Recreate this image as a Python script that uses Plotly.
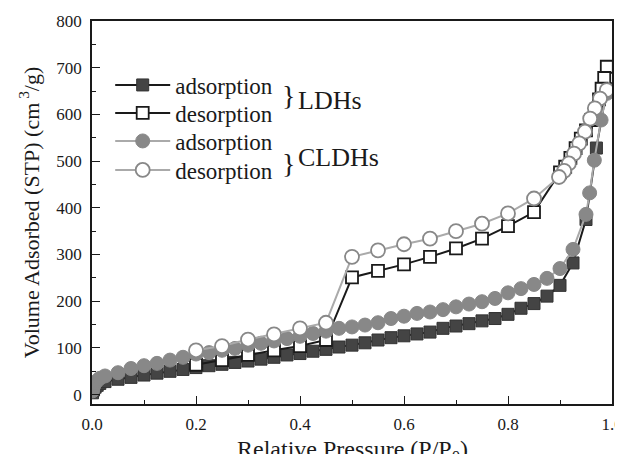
import plotly.graph_objects as go

# LDHs adsorption
ldh_ads_x = [0.001, 0.003, 0.006, 0.01, 0.015, 0.025, 0.05, 0.075, 0.1, 0.125, 0.15, 0.175, 0.2, 0.225,
             0.25, 0.275, 0.3, 0.325, 0.35, 0.375, 0.4, 0.425, 0.45, 0.475, 0.5, 0.525, 0.55, 0.575, 0.6,
             0.625, 0.65, 0.675, 0.7, 0.725, 0.75, 0.775, 0.8, 0.825, 0.85, 0.875, 0.9, 0.925, 0.95, 0.97, 0.99]
ldh_ads_y = [4, 10, 16, 20, 24, 28, 33, 37, 42, 46, 50, 54, 58, 62,
             65, 69, 72, 76, 80, 85, 88, 93, 97, 102, 106, 111, 117, 122, 126,
             130, 134, 142, 147, 152, 158, 163, 172, 185, 195, 211, 234, 282, 375, 528, 655]

# LDHs desorption
ldh_des_x = [0.99, 0.985, 0.98, 0.975, 0.97, 0.96, 0.95, 0.94, 0.93, 0.92, 0.91, 0.9, 0.85, 0.8, 0.75,
             0.7, 0.65, 0.6, 0.55, 0.5, 0.45, 0.4, 0.35, 0.3, 0.25, 0.2]
ldh_des_y = [702, 678, 655, 632, 610, 588, 566, 548, 528, 507, 488, 476, 391, 361, 334,
             313, 295, 279, 265, 251, 117, 104, 95, 85, 74, 64]

# CLDHs adsorption
cldh_ads_x = [0.001, 0.003, 0.006, 0.01, 0.015, 0.025, 0.05, 0.075, 0.1, 0.125, 0.15, 0.175, 0.2, 0.225,
              0.25, 0.275, 0.3, 0.325, 0.35, 0.375, 0.4, 0.425, 0.45, 0.475, 0.5, 0.525, 0.55, 0.575, 0.6,
              0.625, 0.65, 0.675, 0.7, 0.725, 0.75, 0.775, 0.8, 0.825, 0.85, 0.875, 0.9, 0.925, 0.95,
              0.957, 0.966, 0.979, 0.99]
cldh_ads_y = [8, 18, 25, 30, 35, 40, 47, 56, 62, 67, 74, 80, 87, 90,
              95, 99, 106, 110, 115, 120, 125, 131, 136, 142, 145, 149, 154, 163, 168,
              174, 177, 182, 188, 194, 199, 206, 218, 227, 236, 249, 270, 311, 386,
              432, 502, 588, 645]

# CLDHs desorption
cldh_des_x = [0.99, 0.977, 0.967, 0.958, 0.948, 0.937, 0.927, 0.917, 0.908, 0.898, 0.85, 0.8, 0.75,
              0.7, 0.65, 0.6, 0.55, 0.5, 0.45, 0.4, 0.35, 0.3, 0.25, 0.2]
cldh_des_y = [652, 634, 613, 591, 563, 538, 516, 495, 479, 466, 420, 388, 366,
              350, 334, 322, 309, 295, 154, 142, 129, 118, 104, 95]

x_ticks = [0.0, 0.2, 0.4, 0.6, 0.8, 1.0]
x_tick_labels = ["0.0", "0.2", "0.4", "0.6", "0.8", "1.0"]
y_ticks = [0, 100, 200, 300, 400, 500, 600, 700, 800]

FONT = "Liberation Serif"
INK = "#1a1a1a"

fig = go.Figure()
fig.add_trace(go.Scatter(x=ldh_ads_x, y=ldh_ads_y, mode="lines+markers", name="adsorption",
                         legend="legend",
                         line=dict(color=INK, width=2),
                         marker=dict(symbol="square", size=12, color="#444444",
                                     line=dict(color="#333333", width=1))))
fig.add_trace(go.Scatter(x=ldh_des_x, y=ldh_des_y, mode="lines+markers", name="desorption",
                         legend="legend2",
                         line=dict(color=INK, width=2),
                         marker=dict(symbol="square", size=12, color="white",
                                     line=dict(color=INK, width=1.8))))
fig.add_trace(go.Scatter(x=cldh_ads_x, y=cldh_ads_y, mode="lines+markers", name="adsorption",
                         legend="legend3",
                         line=dict(color="#aaaaaa", width=2),
                         marker=dict(symbol="circle", size=14, color="#888888",
                                     line=dict(color="#888888", width=1))))
fig.add_trace(go.Scatter(x=cldh_des_x, y=cldh_des_y, mode="lines+markers", name="desorption",
                         legend="legend4",
                         line=dict(color="#aaaaaa", width=2),
                         marker=dict(symbol="circle", size=14, color="white",
                                     line=dict(color="#888888", width=1.8))))

# page pixel -> paper coordinate (plot area spans x 92..612, y 21..404 in the page)
def px_x(p):
    return (p - 92) / (612 - 92)

def px_y(p):
    return (404 - p) / (404 - 21)

ann = [
    dict(text="}", x=px_x(288), y=px_y(96), font=dict(size=28), xanchor="center"),
    dict(text="LDHs", x=px_x(296), y=px_y(100), font=dict(size=26), xanchor="left"),
    dict(text="}", x=px_x(288), y=px_y(163), font=dict(size=28), xanchor="center"),
    dict(text="CLDHs", x=px_x(296), y=px_y(157), font=dict(size=26), xanchor="left"),
    dict(text="Relative Pressure (P/P<sub>0</sub>)", x=px_x(352), y=px_y(451), font=dict(size=24),
         xanchor="center"),
]
for a in ann:
    a.update(xref="paper", yref="paper", showarrow=False, yanchor="middle")
    a["font"].update(family=FONT, color=INK)

def leg(row_px):
    return dict(x=0.035, y=px_y(row_px), xanchor="left", yanchor="middle",
                font=dict(size=23, family=FONT, color=INK),
                bgcolor="rgba(0,0,0,0)", itemwidth=55)

# the page body has an 8 px margin, so the figure is a bit smaller than the window
fig.update_layout(
    width=615, height=446,
    margin=dict(l=84, r=11, t=13, b=50),
    paper_bgcolor="white", plot_bgcolor="white",
    font=dict(family=FONT, color=INK),
    showlegend=True,
    legend=leg(85), legend2=leg(113), legend3=leg(141), legend4=leg(170),
    annotations=ann,
    xaxis=dict(range=[0, 1.0], tickvals=x_ticks, ticktext=x_tick_labels, ticks="inside", ticklen=8,
               tickwidth=1.3, tickcolor=INK, showline=True, linecolor=INK, linewidth=1.5,
               mirror=True, showgrid=False, zeroline=False, tickfont=dict(size=17),
               ticklabelstandoff=4, automargin=False, ticklabeloverflow="allow",
               minor=dict(dtick=0.1, ticks="inside", ticklen=4, tickcolor=INK, showgrid=False)),
    yaxis=dict(range=[-20, 800], tickvals=y_ticks, ticks="inside", ticklen=8,
               tickwidth=1.3, tickcolor=INK, showline=True, linecolor=INK, linewidth=1.5,
               mirror=True, showgrid=False, zeroline=False, tickfont=dict(size=17),
               ticklabelstandoff=5, automargin=False,
               minor=dict(dtick=50, ticks="inside", ticklen=4, tickcolor=INK, showgrid=False),
               title=dict(text="Volume Adsorbed (STP) (cm<sup> 3</sup>/g)", font=dict(size=22), standoff=11)),
)

fig.write_html("out.html")
